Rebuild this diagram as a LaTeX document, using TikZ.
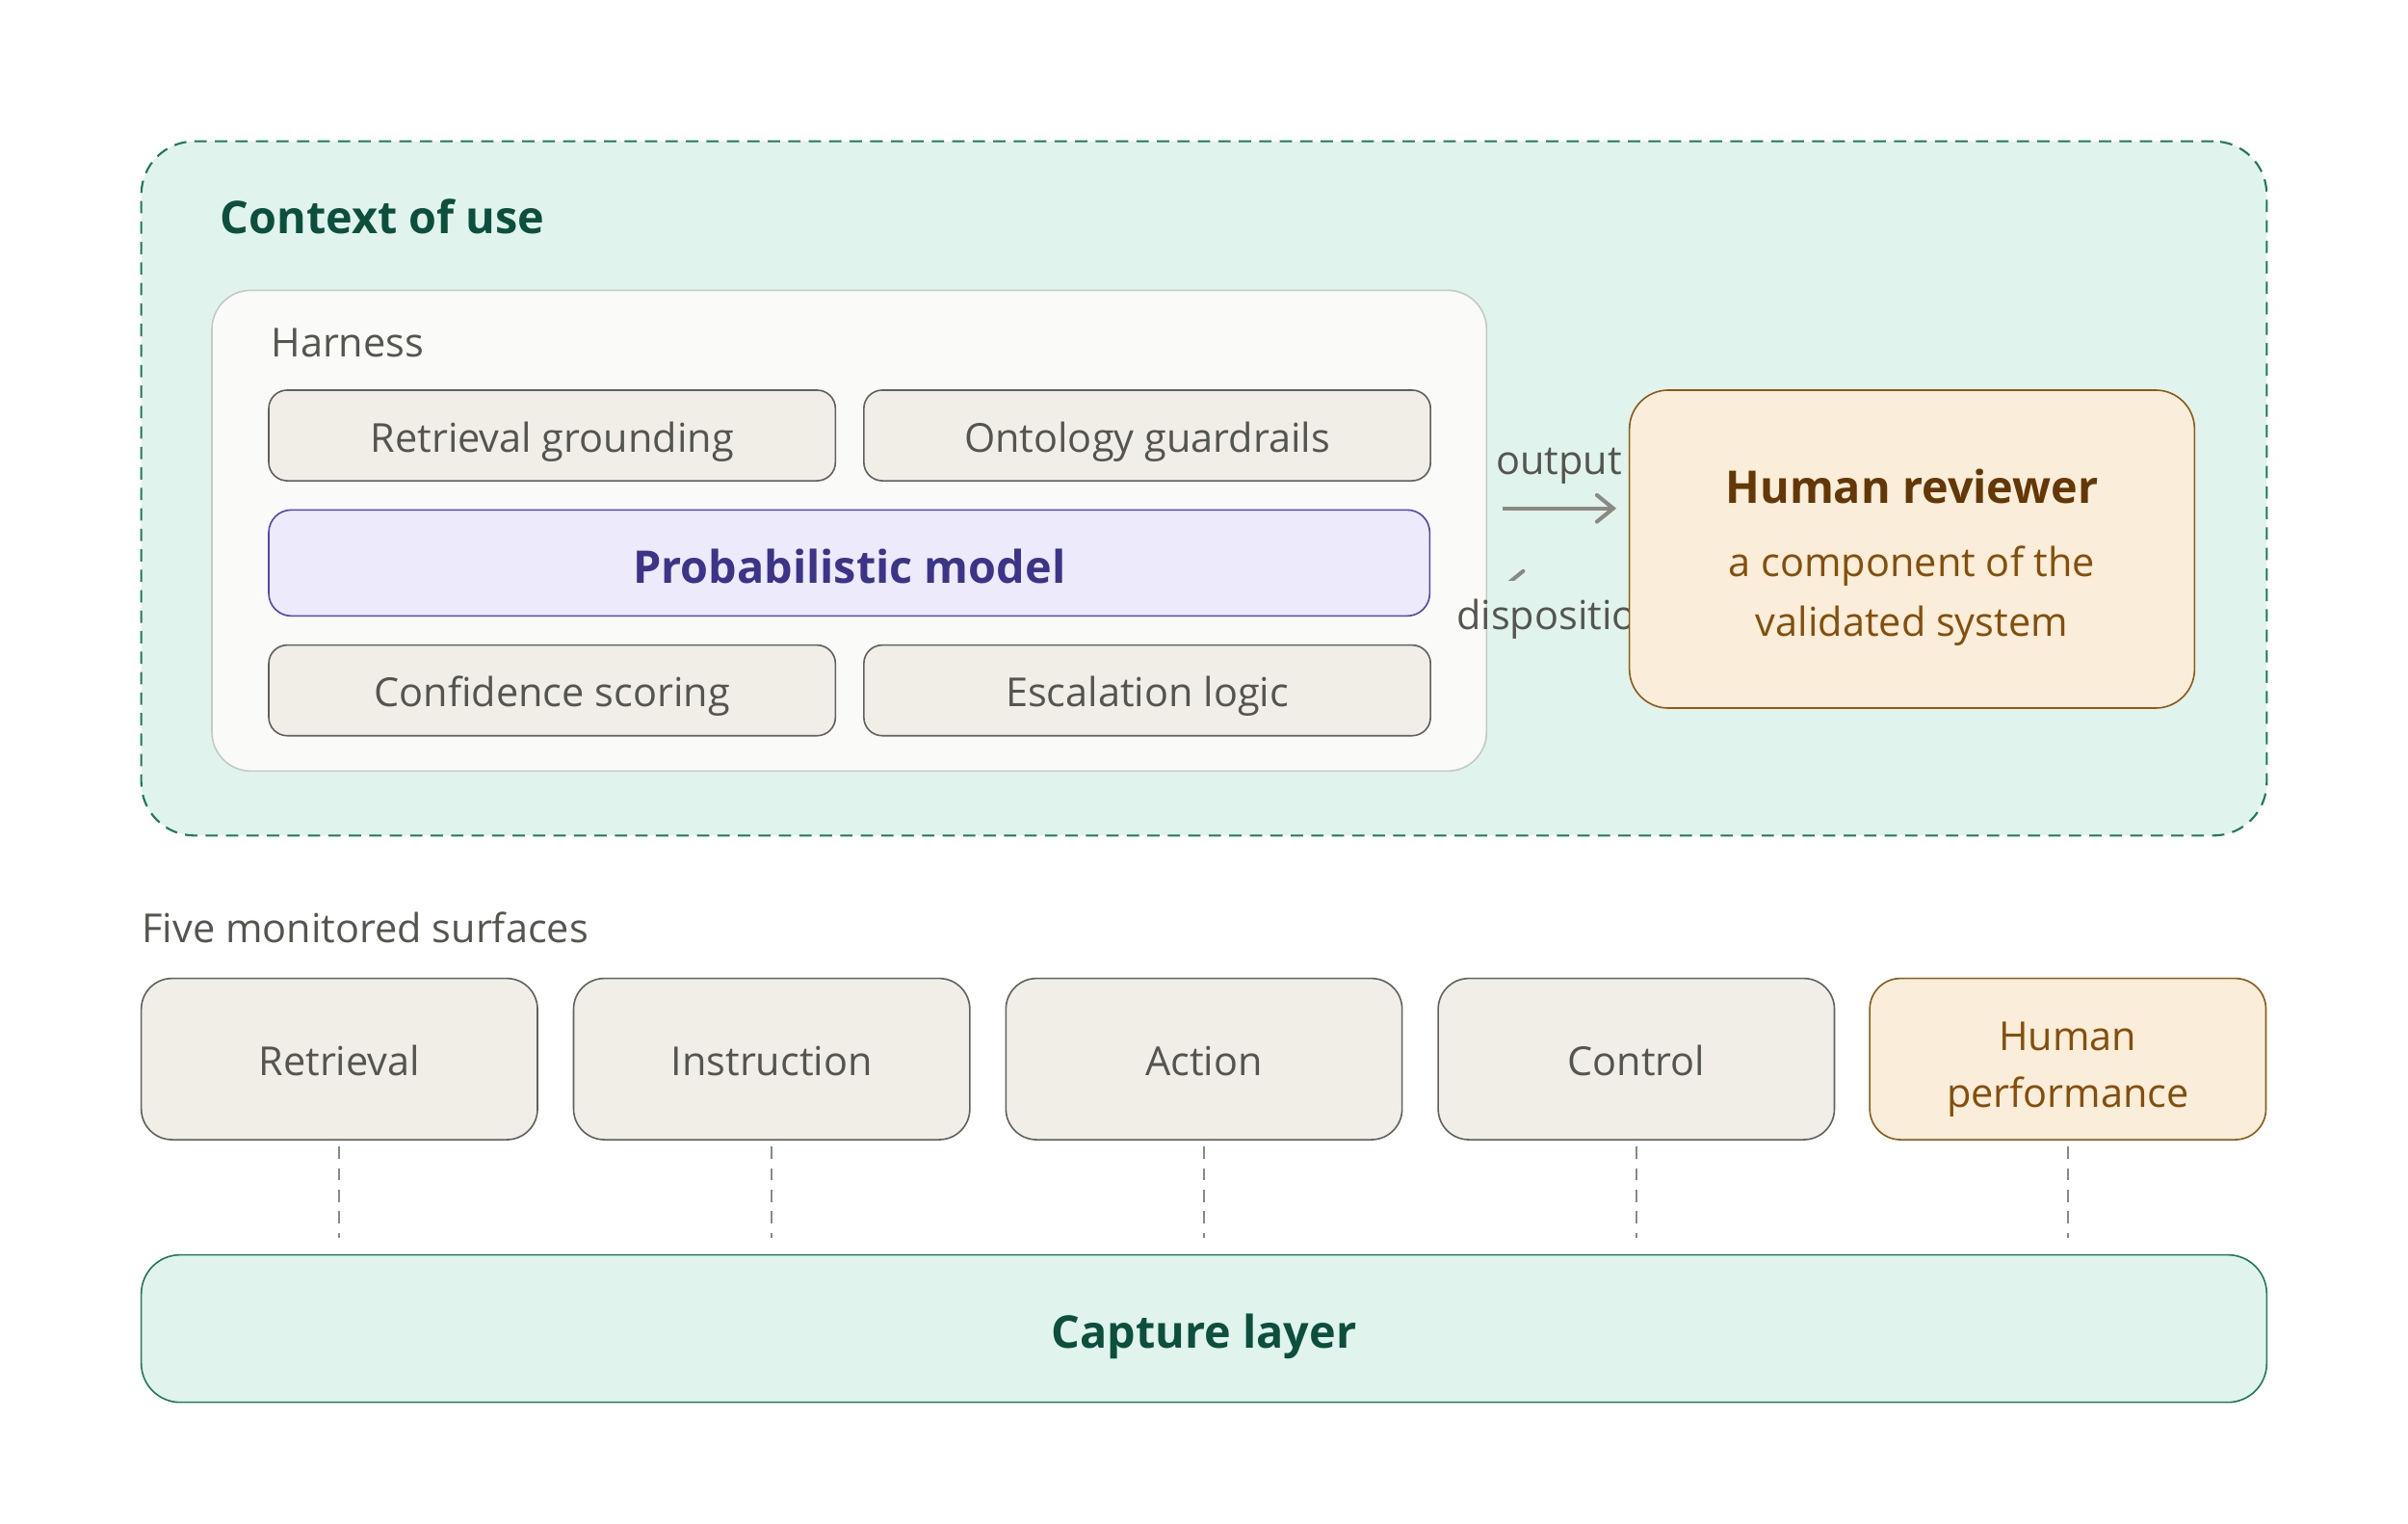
\documentclass[tikz,border=0pt]{standalone}
\usepackage{fontspec}
\setmainfont{Open Sans}
\usetikzlibrary{arrows.meta}

\definecolor{ctxfill}{HTML}{E1F3ED}
\definecolor{ctxline}{HTML}{1D7A5A}
\definecolor{ctxtext}{HTML}{0B4F3C}
\definecolor{harnfill}{HTML}{FAFAF8}
\definecolor{harnline}{HTML}{C5C9C5}
\definecolor{boxfill}{HTML}{F1EEE7}
\definecolor{boxline}{HTML}{60605C}
\definecolor{txtgray}{HTML}{555550}
\definecolor{modelfill}{HTML}{EDEBFB}
\definecolor{modelline}{HTML}{5146B8}
\definecolor{modeltext}{HTML}{3C3489}
\definecolor{revfill}{HTML}{FAEDDA}
\definecolor{revline}{HTML}{8C5A16}
\definecolor{revtitle}{HTML}{633806}
\definecolor{revtext}{HTML}{854F0B}
\definecolor{arrgray}{HTML}{8A8A85}

\newcommand\bodyfnt{\fontsize{19.5}{24}\selectfont}
\newcommand\titlefnt{\fontsize{22}{26}\selectfont\bfseries}

\tikzset{every picture/.style={line width=0.75pt}}
\tikzset{
  lbl/.style={inner sep=0pt, font=\bodyfnt, text=txtgray},
  lowtext/.style={text height=17pt, text depth=1pt},
  ctxbox/.style={draw=ctxline, fill=ctxfill, dash pattern=on 6pt off 4pt, line width=1pt, rounded corners=26pt, minimum width=1038pt, minimum height=339pt},
  harnbox/.style={draw=harnline, fill=harnfill, rounded corners=19pt, minimum width=622.5pt, minimum height=234.75pt},
  graybox/.style={draw=boxline, fill=boxfill, rounded corners=9pt, minimum width=276.75pt, minimum height=44.25pt, font=\bodyfnt, text=txtgray, lowtext},
  modelbox/.style={draw=modelline, fill=modelfill, rounded corners=11pt, minimum width=567pt, minimum height=51.75pt, font=\titlefnt, text=modeltext, text height=21pt, text depth=1pt},
  revbox/.style={draw=revline, fill=revfill, rounded corners=19pt, minimum width=276pt, minimum height=155.25pt},
  surfbox/.style={draw=boxline, fill=boxfill, rounded corners=15pt, minimum width=193.5pt, minimum height=78.75pt, font=\bodyfnt, text=txtgray, lowtext},
  humanbox/.style={draw=revline, fill=revfill, rounded corners=15pt, minimum width=193.5pt, minimum height=78.75pt},
  capbox/.style={draw=ctxline, fill=ctxfill, rounded corners=19pt, minimum width=1038pt, minimum height=72pt, font=\titlefnt, text=ctxtext, text height=19pt, text depth=0pt},
  flow/.style={draw=arrgray, line width=1.9pt, -{Straight Barb[length=8pt,width=13pt,line cap=round]}},
  link/.style={draw=arrgray, line width=0.9pt, dash pattern=on 6pt off 4.5pt, shorten <=3pt, shorten >=8pt}
}

\begin{document}
\begin{tikzpicture}[x=0.75pt,y=0.75pt,yscale=-1,xscale=1]
	\useasboundingbox (0,0) rectangle (1568,992);

	% Context of use
	\node[ctxbox] (ctx) at (784,318) {};
	\node[lbl, anchor=west, font=\titlefnt, text=ctxtext] (ctxlabel) at (143,141) {Context of use};

	% Harness
	\node[harnbox] (harness) at (553,345.5) {};
	\node[lbl, anchor=west] (harnlabel) at (176,223) {Harness};
	\node[graybox] (grounding) at (359.5,283.5) {Retrieval grounding};
	\node[graybox] (guardrails) at (747,283.5) {Ontology guardrails};
	\node[modelbox] (model) at (553,366.5) {Probabilistic model};
	\node[graybox] (scoring) at (359.5,449.5) {Confidence scoring};
	\node[graybox] (escalation) at (747,449.5) {Escalation logic};

	% Text Node
	\node[lbl, anchor=base] (outlabel) at (1015,309) {output};
	% Text Node
	\node[lbl, anchor=base west] (displabel) at (948,410) {disposition};

	% Human reviewer
	\node[revbox] (reviewer) at (1245,357.5) {};
	\node[lbl, font=\titlefnt, text=revtitle] (revname) at (1245,317) {Human reviewer};
	\node[lbl, font=\fontsize{19.5}{29.25}\selectfont, text=revtext, align=center] (revnote) at (1245,388) {a component of the\\validated system};

	% arrows
	\coordinate (outrow) at (1015,331);
	\coordinate (disprow) at (1015,380.5);
	\draw[flow, shorten <=7.5pt, shorten >=6pt] (harness.east |- outrow) -- (reviewer.west |- outrow);
	\begin{scope}
		\clip (968,350) rectangle (1061,378);
		\draw[flow, shorten >=8pt] (reviewer.west |- disprow) -- (harness.east |- disprow);
	\end{scope}

	% Five monitored surfaces
	\node[lbl, anchor=west] (fivelabel) at (92,604) {Five monitored surfaces};
	\foreach \x/\name/\txt in {221/retrieval/Retrieval, 502.5/instruction/Instruction, 784/action/Action, 1065.5/control/Control}
		\node[surfbox] (\name) at (\x,689.5) {\txt};
	\node[humanbox] (human) at (1346.5,689.5) {};
	\node[lbl, font=\fontsize{19.5}{27.75}\selectfont, text=revtext, align=center] (humantext) at (1346.5,696) {Human\\performance};

	% Capture layer
	\node[capbox] (capture) at (784,865) {Capture layer};
	\foreach \name in {retrieval,instruction,action,control,human}
		\draw[link] (\name.south) -- (\name.south |- capture.north);

\end{tikzpicture}
\end{document}
